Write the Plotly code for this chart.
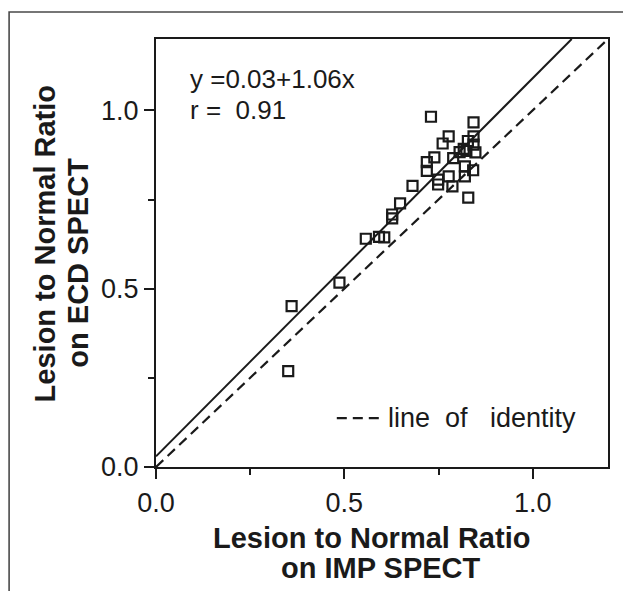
import plotly.graph_objects as go

# IMP SPECT (x) vs ECD SPECT (y) lesion-to-normal ratios
imp_ratio = [0.730, 0.843, 0.777, 0.761, 0.843, 0.828, 0.843, 0.817, 0.806, 0.848,
             0.824, 0.739, 0.789, 0.719, 0.719, 0.820, 0.842, 0.777, 0.749, 0.749,
             0.787, 0.820, 0.681, 0.829, 0.648, 0.627, 0.627, 0.557, 0.592, 0.606,
             0.487, 0.360, 0.351]
ecd_ratio = [0.982, 0.966, 0.927, 0.907, 0.927, 0.914, 0.904, 0.892, 0.883, 0.882,
             0.886, 0.868, 0.866, 0.855, 0.830, 0.843, 0.832, 0.815, 0.806, 0.792,
             0.787, 0.815, 0.788, 0.755, 0.739, 0.708, 0.697, 0.640, 0.645, 0.644,
             0.517, 0.451, 0.269]

fit_intercept = 0.03
fit_slope = 1.06
r_value = 0.91
axis_max = 1.2
tick_vals = [0.0, 0.5, 1.0]
identity_label = "line\u00a0\u00a0of\u00a0\u00a0\u00a0identity"

FONT = "Liberation Sans, Arial, Helvetica, sans-serif"
INK = "#1a1a1a"
IDENT_DASH = "10px,6px"

fit_x = [0.0, (axis_max - fit_intercept) / fit_slope]
fit_y = [fit_intercept + fit_slope * v for v in fit_x]

fig = go.Figure()
fig.add_trace(go.Scatter(
    x=[0.0, axis_max], y=[0.0, axis_max], mode="lines",
    line=dict(color=INK, width=2.2, dash=IDENT_DASH), showlegend=False))
fig.add_trace(go.Scatter(
    x=fit_x, y=fit_y, mode="lines",
    line=dict(color=INK, width=2), showlegend=False))
fig.add_trace(go.Scatter(
    x=imp_ratio, y=ecd_ratio, mode="markers",
    marker=dict(symbol="square-open", size=10, color=INK, line=dict(width=2.2, color=INK)),
    showlegend=False))

axis_common = dict(
    range=[0, axis_max], tickvals=tick_vals, tickformat=".1f",
    ticks="outside", ticklen=10, tickwidth=2, tickcolor=INK,
    showline=True, linecolor=INK, linewidth=2.2, mirror=True,
    showgrid=False, zeroline=False,
    tickfont=dict(family=FONT, size=27, color=INK),
    minor=dict(ticks="outside", ticklen=6, tickwidth=2, tickcolor=INK, dtick=0.25, showgrid=False),
)
fig.update_xaxes(**axis_common)
fig.update_yaxes(**axis_common)

title_font = dict(family=FONT, size=29, color=INK)
text_font = dict(family=FONT, size=26, color=INK)
annos = [
    dict(text="<b>Lesion to Normal Ratio</b>", x=0.477, y=-0.166, xref="paper", yref="paper",
         showarrow=False, font=title_font, xanchor="center", yanchor="middle"),
    dict(text="<b>on IMP SPECT</b>", x=0.498, y=-0.236, xref="paper", yref="paper",
         showarrow=False, font=title_font, xanchor="center", yanchor="middle"),
    dict(text="<b>Lesion to Normal Ratio</b>", x=-0.246, y=0.522, xref="paper", yref="paper",
         showarrow=False, font=title_font, textangle=-90, xanchor="center", yanchor="middle"),
    dict(text="<b>on ECD SPECT</b>", x=-0.173, y=0.477, xref="paper", yref="paper",
         showarrow=False, font=title_font, textangle=-90, xanchor="center", yanchor="middle"),
    dict(text="y =%.2f+%.2fx" % (fit_intercept, fit_slope), x=0.07, y=1.087, xref="paper", yref="y",
         showarrow=False, font=text_font, xanchor="left", yanchor="middle"),
    dict(text="r = \u00a0%.2f" % r_value, x=0.07, y=1.0, xref="paper", yref="y",
         showarrow=False, font=text_font, xanchor="left", yanchor="middle"),
    dict(text=identity_label, x=0.509, y=0.137, xref="paper", yref="y",
         showarrow=False, font=dict(family=FONT, size=27, color=INK), xanchor="left", yanchor="middle"),
]

fig.update_layout(
    width=631, height=591,
    margin=dict(l=148, r=31, t=31, b=132),
    paper_bgcolor="white", plot_bgcolor="white",
    annotations=annos,
    shapes=[
        dict(type="path", xref="paper", yref="paper",
             path="M -0.325,-0.4 L -0.325,1.063 L 1.2,1.063",
             line=dict(color="#4a4a4a", width=1.6)),
        # legend key for the identity line
        dict(type="line", xref="paper", yref="y", x0=0.40, x1=0.495, y0=0.137, y1=0.137,
             line=dict(color=INK, width=2.2, dash=IDENT_DASH)),
    ],
)

fig.write_html("out.html")
